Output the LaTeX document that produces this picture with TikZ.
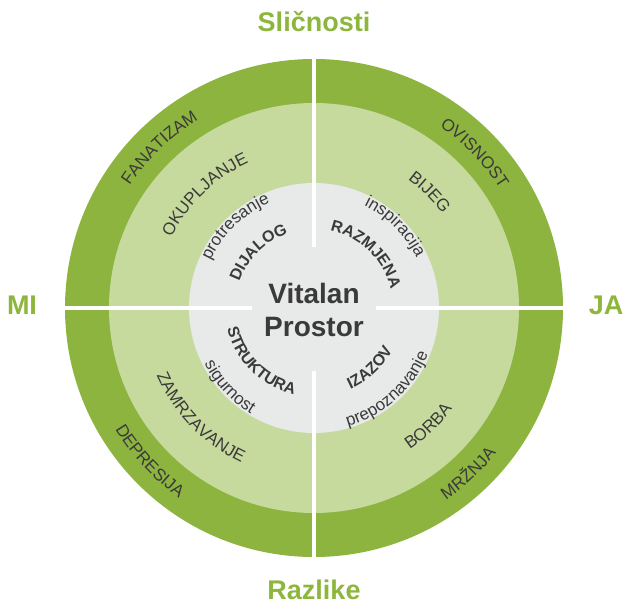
\documentclass[tikz,border=0pt]{standalone}
\usepackage{fontspec}
\setmainfont{Liberation Sans}
\usetikzlibrary{decorations.text}

\definecolor{outergreen}{HTML}{8CB43F}
\definecolor{middlegreen}{HTML}{C6DA9E}
\definecolor{innergray}{HTML}{E8E9E9}
\definecolor{textgray}{HTML}{3A3A3A}
\definecolor{titlegreen}{HTML}{8DB63C}

\newcommand{\ringfont}{\fontsize{17}{20}\selectfont}
\newcommand{\boldfont}{\fontsize{16}{19}\selectfont\bfseries}

% text on an arc: font, radius, from angle, to angle, text
\newcommand{\arctext}[5]{%
  \path[decorate, decoration={text along path, text align=center,
    text color=textgray, text={|#1|#5}}] (#3:#2) arc (#3:#4:#2);}

\tikzset{
  gapline/.style={white, line width=3.5pt},
  title/.style={text=titlegreen, font=\fontsize{27}{30}\selectfont\bfseries, anchor=base, inner sep=1pt},
  centre/.style={text=textgray, font=\fontsize{28}{33}\selectfont\bfseries, anchor=base}
}

\begin{document}
\begin{tikzpicture}[x=1pt,y=1pt]
  \useasboundingbox (-314,-294) rectangle (314,308);

  % rings
  \fill[outergreen] (0,0) circle (249);
  \fill[middlegreen] (0,0) circle (205);
  \fill[innergray] (0,0) circle (125);

  % cross
  \coordinate (top) at (0,252);
  \coordinate (topin) at (0,61);
  \coordinate (bottom) at (0,-252);
  \coordinate (bottomin) at (0,-63);
  \coordinate (left) at (-252,0);
  \coordinate (leftin) at (-62,0);
  \coordinate (right) at (252,0);
  \coordinate (rightin) at (62,0);
  \begin{scope}[gapline]
    \draw (top) -- (topin);
    \draw (bottom) -- (bottomin);
    \draw (left) -- (leftin);
    \draw (right) -- (rightin);
  \end{scope}

  % outer ring
  \arctext{\ringfont}{221}{174}{94}{FANATIZAM}
  \arctext{\ringfont}{221}{84}{4}{OVISNOST}
  \arctext{\ringfont}{233}{-87}{-7}{MRŽNJA}
  \arctext{\ringfont}{233}{183}{263}{DEPRESIJA}

  % middle ring
  \arctext{\ringfont}{159}{174}{94}{OKUPLJANJE}
  \arctext{\ringfont}{159}{85}{5}{BIJEG}
  \arctext{\ringfont}{171}{-86}{-6}{BORBA}
  \arctext{\ringfont}{171}{184}{264}{ZAMRZAVANJE}

  % inner circle
  \arctext{\ringfont}{114}{174}{94}{protresanje}
  \arctext{\ringfont}{114}{85}{5}{inspiracija}
  \arctext{\ringfont}{123}{-88}{-8}{prepoznavanje}
  \arctext{\ringfont}{123}{183}{263}{sigurnost}
  \arctext{\boldfont}{79}{175}{95}{DIJALOG}
  \arctext{\boldfont}{79}{86}{6}{RAZMJENA}
  \arctext{\boldfont}{89}{-87}{-7}{IZAZOV}
  \arctext{\boldfont}{89}{185}{265}{STRUKTURA}

  \node[centre] (vitalan) at (0,5) {Vitalan};
  \node[centre] (prostor) at (0,-28) {Prostor};

  % axes
  \node[title] (slicnosti) at (0,276) {Sličnosti};
  \node[title] (razlike) at (0,-291) {Razlike};
  \node[title] (mi) at (-292,-6) {MI};
  \node[title] (ja) at (292,-6) {JA};
\end{tikzpicture}
\end{document}
